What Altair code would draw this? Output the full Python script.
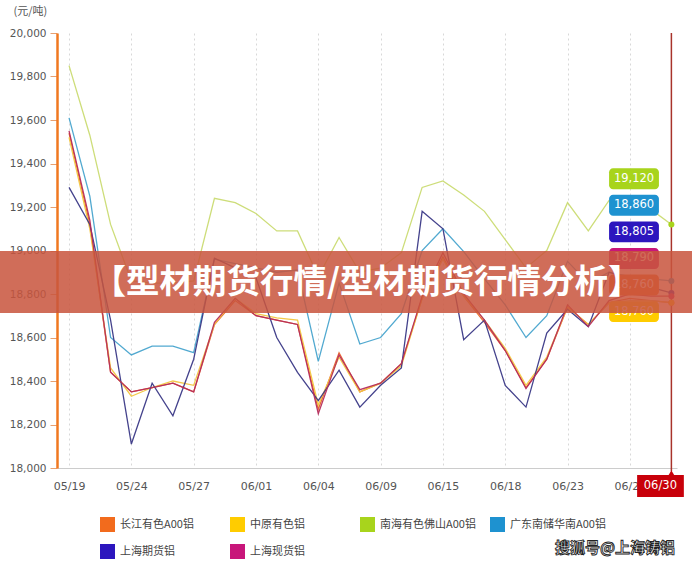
import json
import altair as alt
import pandas as pd

# ---------------- data ----------------
dates = ["05/19", "05/20", "05/23", "05/24", "05/25", "05/26", "05/27", "05/30", "05/31", "06/01",
         "06/02", "06/03", "06/04", "06/06", "06/08", "06/09", "06/10", "06/14", "06/15", "06/16",
         "06/17", "06/18", "06/20", "06/22", "06/23", "06/24", "06/27", "06/28", "06/29", "06/30"]
tick_idx = [0, 3, 6, 9, 12, 15, 18, 21, 24, 27]

series = ["长江有色A00铝", "中原有色铝", "南海有色佛山A00铝", "广东南储华南A00铝", "上海期货铝", "上海现货铝"]

changjiang = [19540, 19120, 18440, 18350, 18370, 18390, 18350, 18660, 18770, 18700,
              18680, 18660, 18270, 18530, 18350, 18390, 18480, 18780, 18970, 18790,
              18670, 18540, 18370, 18500, 18740, 18660, 18760, 18780, 18770, 18760]
zhongyuan = [19520, 19100, 18460, 18330, 18370, 18400, 18380, 18660, 18780, 18710,
             18690, 18680, 18290, 18510, 18350, 18390, 18470, 18780, 18960, 18790,
             18680, 18550, 18380, 18510, 18740, 18660, 18760, 18770, 18770, 18760]
nanhai = [19850, 19530, 19120, 18860, 18850, 18850, 18860, 19240, 19220, 19170,
          19090, 19090, 18880, 19060, 18900, 18920, 18990, 19290, 19320, 19255,
          19180, 19050, 18920, 19000, 19220, 19090, 19230, 19220, 19190, 19120]
guangdong = [19610, 19250, 18600, 18520, 18560, 18560, 18530, 18960, 18940, 18920,
             18900, 18910, 18490, 18850, 18570, 18600, 18710, 19000, 19100, 18995,
             18870, 18750, 18600, 18700, 18950, 18850, 18900, 18880, 18870, 18860]
shfe = [19290, 19120, 18680, 18110, 18390, 18240, 18500, 18965, 18920, 18875,
        18600, 18440, 18310, 18450, 18280, 18380, 18460, 19180, 19100, 18590,
        18680, 18380, 18280, 18620, 18730, 18650, 18900, 18870, 18830, 18805]
shspot = [19550, 19140, 18440, 18350, 18370, 18390, 18350, 18670, 18780, 18700,
          18680, 18660, 18250, 18520, 18360, 18390, 18480, 18790, 18990, 18800,
          18680, 18540, 18365, 18500, 18750, 18650, 18770, 18800, 18790, 18790]

values = [changjiang, zhongyuan, nanhai, guangdong, shfe, shspot]

legend_colors = ["#F26B1D", "#FFCC00", "#A8D41C", "#1E92D0", "#2C16BE", "#C8167A"]
line_colors = ["#E8622A", "#F3C640", "#CADB72", "#48A4CE", "#3A3886", "#B52C5C"]

y_ticks = [18000, 18200, 18400, 18600, 18800, 19000, 19200, 19400, 19600, 19800, 20000]

banner_text = "【型材期货行情/型材期货行情分析】"
unit_text = "(元/吨)"
watermark = "搜狐号@上海铸铝"

# ---------------- tables ----------------
rows = []
for k, (name, vals) in enumerate(zip(series, values)):
    for i, v in enumerate(vals):
        rows.append({"series": name, "order": k, "idx": i, "value": v})
df = pd.DataFrame(rows)

last = len(dates) - 1
last_df = df[df["idx"] == last].copy()
last_df = last_df.sort_values(["value", "order"], ascending=[False, True]).reset_index(drop=True)
last_df["rank"] = range(len(last_df))
# stacked value labels (layout derived from rank)
step = 122.2
last_df["ly"] = 19330 - last_df["rank"] * step
last_df["ly1"] = last_df["ly"] + 48
last_df["ly2"] = last_df["ly"] - 48
last_df["lx1"] = last - 3.0
last_df["lx2"] = last - 0.6
last_df["lx"] = last - 1.8

end_df = pd.DataFrame({"idx": [last], "label": [dates[last]]})
end_df["bx1"] = end_df["idx"] - 1.65
end_df["bx2"] = end_df["idx"] + 0.6
end_df["bx"] = end_df["idx"] - 0.53

W, H = 620, 435
xscale = alt.Scale(domain=[-0.58, 29.27], nice=False, zero=False)
yscale = alt.Scale(domain=[18000, 20000], nice=False, zero=False)

label_expr = json.dumps(dates) + "[datum.value]"

base = alt.Chart(df)

lines = base.mark_line(strokeWidth=1.3, opacity=0.95).encode(
    x=alt.X("idx:Q", scale=xscale,
            axis=alt.Axis(values=tick_idx, labelExpr=label_expr, title=None,
                          grid=True, gridDash=[2, 3], gridColor="#d8d8d8",
                          ticks=False, domainColor="#cccccc", labelPadding=12,
                          labelFontSize=11, labelColor="#555555", labelFont="DejaVu Sans")),
    y=alt.Y("value:Q", scale=yscale,
            axis=alt.Axis(values=y_ticks, format=",.0f", grid=False, title=unit_text,
                          titleAngle=0, titleX=-44, titleY=-22, titleAlign="left",
                          titleBaseline="middle", titleFontSize=11, titleFontWeight="normal",
                          titleColor="#555555", titleFont="Noto Sans CJK SC",
                          domainColor="#F07820", domainWidth=2.5, tickColor="#E8A070",
                          tickSize=7, labelPadding=4, labelFontSize=10.5,
                          labelColor="#555555", labelFont="DejaVu Sans")),
    color=alt.Color("series:N", scale=alt.Scale(domain=series, range=line_colors), legend=None),
    detail="series:N",
    order="idx:Q",
)

end_rule = alt.Chart(end_df).mark_rule(color="#A8332B", strokeWidth=1.5).encode(
    x=alt.X("idx:Q", scale=xscale), y=alt.value(0), y2=alt.value(H + 3)
)

legend = alt.Legend(orient="none", legendX=43, legendY=484, columns=4, direction="horizontal",
                    symbolType="square", symbolSize=225, symbolStrokeWidth=0, labelFontSize=11,
                    labelFont="Noto Sans CJK SC", labelColor="#444444", columnPadding=14,
                    rowPadding=12, gridAlign="all", labelOffset=5, title=None, padding=0)

dots = alt.Chart(last_df).mark_circle(size=36, opacity=1).encode(
    x=alt.X("idx:Q", scale=xscale),
    y=alt.Y("value:Q", scale=yscale),
    color=alt.Color("series:N", scale=alt.Scale(domain=series, range=legend_colors), legend=legend),
)

boxes = alt.Chart(last_df).mark_rect(cornerRadius=4).encode(
    x=alt.X("lx1:Q", scale=xscale), x2="lx2:Q",
    y=alt.Y("ly1:Q", scale=yscale), y2="ly2:Q",
    color=alt.Color("series:N", scale=alt.Scale(domain=series, range=legend_colors), legend=None),
)

box_text = alt.Chart(last_df).mark_text(color="white", fontSize=11.5, font="DejaVu Sans").encode(
    x=alt.X("lx:Q", scale=xscale),
    y=alt.Y("ly:Q", scale=yscale),
    text=alt.Text("value:Q", format=",.0f"),
)

end_box = alt.Chart(end_df).mark_rect(color="#C8000A").encode(
    x=alt.X("bx1:Q", scale=xscale), x2="bx2:Q", y=alt.value(H + 7), y2=alt.value(H + 29)
)
end_ptr = alt.Chart(end_df).mark_point(shape="triangle-up", filled=True, size=40,
                                       color="#C8000A", opacity=1).encode(
    x=alt.X("idx:Q", scale=xscale), y=alt.value(H + 5)
)
end_text = alt.Chart(end_df).mark_text(color="white", fontSize=11.5, font="DejaVu Sans").encode(
    x=alt.X("bx:Q", scale=xscale), y=alt.value(H + 18), text="label:N"
)

banner_df = pd.DataFrame({"t": [banner_text]})
banner = alt.Chart(banner_df).mark_rect(color="#C8553E", opacity=0.86).encode(
    x=alt.value(-57), x2=alt.value(635), y=alt.value(218), y2=alt.value(280)
)
banner_txt = alt.Chart(banner_df).mark_text(color="white", fontSize=33.5, fontWeight="bold",
                                            font="Noto Sans CJK SC").encode(
    x=alt.value(310), y=alt.value(250), text="t:N"
)

wm_df = pd.DataFrame({"t": [watermark]})
wm = alt.Chart(wm_df).mark_text(color="white", stroke="#222222", strokeWidth=0.9,
                                fontSize=15, fontWeight="bold", font="Noto Sans CJK SC").encode(
    x=alt.value(558), y=alt.value(515), text="t:N"
)

chart = alt.layer(
    lines, end_rule, dots, boxes, box_text, end_box, end_ptr, end_text, banner, banner_txt, wm
).resolve_scale(color="independent").properties(
    width=W, height=H,
    padding={"left": 57, "top": 33, "right": 15, "bottom": 97},
    autosize=alt.AutoSizeParams(type="none"),
    background="white",
).configure_view(stroke=None)

chart.save("out.html", embed_options={"renderer": "svg", "actions": False})
